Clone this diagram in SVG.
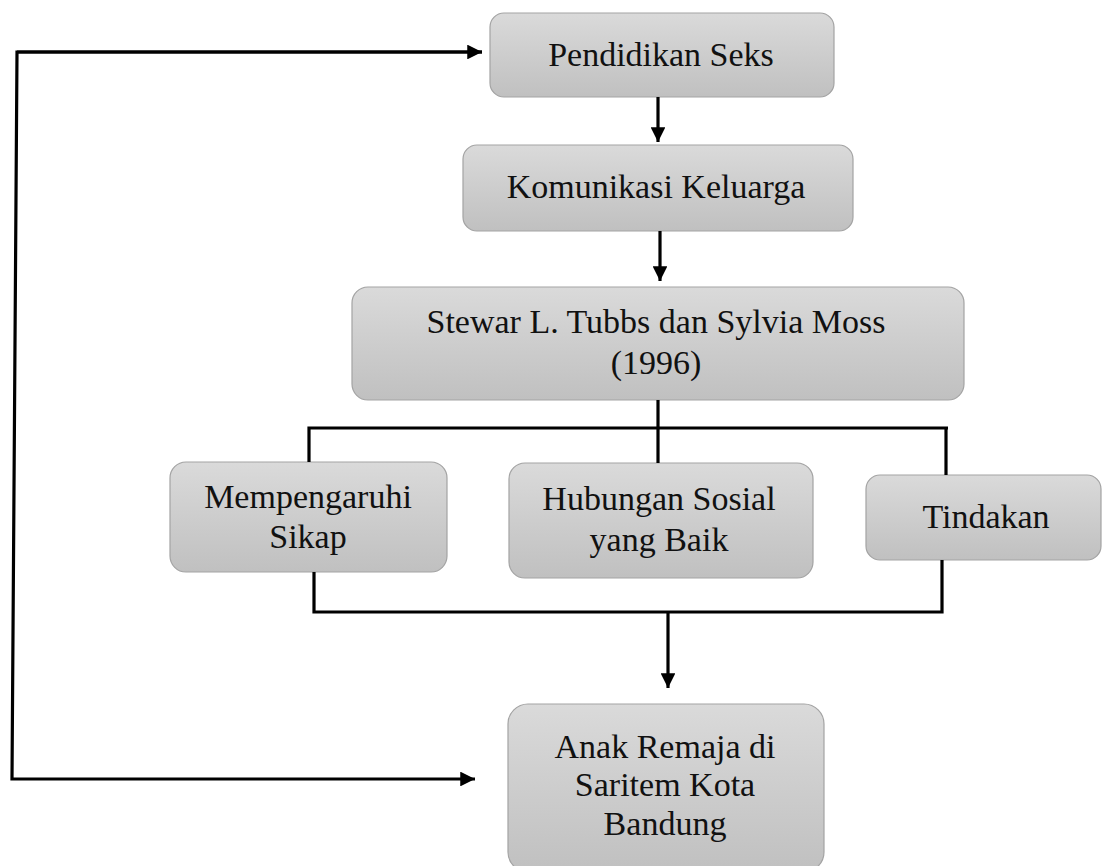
<svg xmlns="http://www.w3.org/2000/svg" width="1103" height="866" viewBox="0 0 1103 866">
<defs>
<linearGradient id="g" x1="0" y1="0" x2="0" y2="1">
<stop offset="0" stop-color="#dadada"/>
<stop offset="1" stop-color="#c0c0c0"/>
</linearGradient>
<marker id="ah" viewBox="0 0 10 10" refX="10" refY="5" markerWidth="5.2" markerHeight="4.6" markerUnits="strokeWidth" orient="auto">
<path d="M0,0 L10,5 L0,10 Z" fill="#000"/>
</marker>
<style>
.box{fill:url(#g);stroke:#a3a3a3;stroke-width:1.2}
.t{font-family:"Liberation Serif","Times New Roman",serif;font-size:34px;fill:#111;text-anchor:middle}
.c{fill:none;stroke:#000;stroke-width:3.2}
</style>
</defs>
<rect width="1103" height="866" fill="#fff"/>
<g id="n1"><rect class="box" x="490" y="13" width="344" height="84" rx="14"/><text class="t" x="661" y="66">Pendidikan Seks</text></g>
<g id="n2"><rect class="box" x="463" y="145" width="390" height="86" rx="14"/><text class="t" x="656" y="198">Komunikasi Keluarga</text></g>
<g id="n3"><rect class="box" x="352" y="287" width="612" height="113" rx="16"/><text class="t" x="656" y="333">Stewar L. Tubbs dan Sylvia Moss</text><text class="t" x="656" y="374">(1996)</text></g>
<g id="n4"><rect class="box" x="170" y="462" width="277" height="110" rx="16"/><text class="t" x="308" y="508">Mempengaruhi</text><text class="t" x="308" y="548">Sikap</text></g>
<g id="n5"><rect class="box" x="509" y="463" width="304" height="115" rx="16"/><text class="t" x="659" y="510">Hubungan Sosial</text><text class="t" x="659" y="551">yang Baik</text></g>
<g id="n6"><rect class="box" x="866" y="475" width="235" height="85" rx="14"/><text class="t" x="986" y="528">Tindakan</text></g>
<g id="n7"><rect class="box" x="508" y="704" width="316" height="168" rx="20"/><text class="t" x="665" y="758">Anak Remaja di</text><text class="t" x="665" y="796">Saritem Kota</text><text class="t" x="665" y="835">Bandung</text></g>
<g id="connectors">
<path class="c" d="M658,97 V142" marker-end="url(#ah)"/>
<path class="c" d="M660,231 V281" marker-end="url(#ah)"/>
<path class="c" d="M658,400 V463"/>
<path class="c" d="M309,462 V428 H948"/>
<path class="c" d="M946,428 V475"/>
<path class="c" d="M314,572 V612 H942 V560"/>
<path class="c" d="M668,612 V688" marker-end="url(#ah)"/>
<path class="c" d="M482,52 H17 L12,779 H475" marker-end="url(#ah)"/>
<path class="c" d="M17,52 H482" marker-end="url(#ah)"/>
</g>
</svg>
